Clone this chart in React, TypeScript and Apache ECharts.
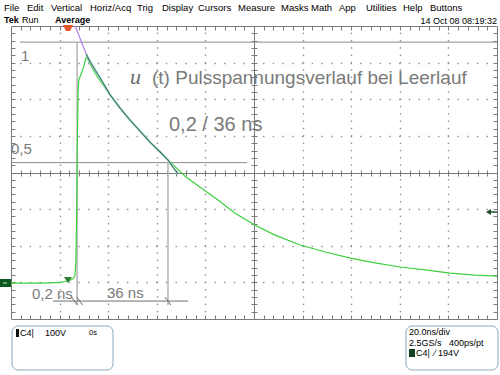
import React, { useEffect, useRef } from "react";
import * as echarts from "echarts";

// ---- scope settings ----
const TIME_PER_DIV_NS = 20;
const VOLT_PER_DIV = 100;
const DIVS_X = 10;
const DIVS_Y = 8;
const SUBDIVS = 5;
const TRIGGER_POS_NS = 23.5; // trigger position, measured from the left screen edge
const GROUND_OFFSET_V = -302; // channel ground position on screen
const LEVEL_ONE_V = 658; // "1" reference level above ground
const LEVEL_HALF_V = 329; // "0,5" reference level above ground

// ---- measured trace (time after trigger in ns, volts above ground) ----
const traceTimeNs = [
  -23.5, -10, -3, -1, 0.8, 2.0, 2.8, 3.2, 3.5, 3.8, 4.1, 4.4, 5.0, 5.8, 6.6, 7.4,
  8.2, 9.1, 11.1, 13.2, 17.3, 21.4, 25.5, 29.6, 33.7, 37.9, 42.0, 48.1, 54.3,
  61.3, 68.7, 77.0, 85.2, 95.5, 105.8, 116.1, 126.3, 136.6, 146.9, 157.2, 167.5,
  176.5,
];
const traceVolts = [
  0, 0, 2, 5, 8, 12, 20, 60, 180, 380, 520, 555, 565, 578, 595, 617, 610, 598,
  574, 552, 514, 478, 445, 415, 385, 358, 331, 292, 262, 229, 191, 158, 131, 104,
  85, 68, 55, 44, 36, 27, 22, 19,
];

// ---- hand-drawn exponential fit ----
const fitPurpleTimeNs = [2.9, 7.4];
const fitPurpleVolts = [702, 626];
const fitTimeNs = [7.4, 9.1, 13.2, 17.3, 21.4, 25.5, 29.6, 33.7, 37.9, 41.1, 44.0, 45.3];
const fitVolts = [626, 604, 560, 514, 478, 445, 415, 385, 358, 336, 309, 298];

// ---- annotation geometry (ns after trigger, volts above ground) ----
const levelOneSpanNs = [-19.8, 176.5];
const levelHalfSpanNs = [-23.5, 73.7];
const riseMarkerNs = 3.7;
const halfMarkerNs = 41.1;
const markerBottomV = -60;
const dimensionLineV = -49;
const dimensionSpanNs = [-6.2, 49.4];
const slashMarksNs = [2.6, 4.8, 41.1];

const menuItems = ["File", "Edit", "Vertical", "Horiz/Acq", "Trig", "Display", "Cursors", "Measure", "Masks", "Math", "App", "Utilities", "Help", "Buttons"];
const menuX = [4, 27, 51, 90, 137, 162, 198, 238, 281, 311, 339, 366, 403, 430];

const toScreen = (t: number, v: number) => [t + TRIGGER_POS_NS, v + GROUND_OFFSET_V];

const FONT = "Liberation Sans, Arial, sans-serif";
const GRAY_TXT = "#7a7a7a";

function grayLine(data: number[][], color = "#9a9a9a", width = 1) {
  return {
    type: "line",
    data,
    symbol: "none",
    silent: true,
    lineStyle: { color, width },
    z: 3,
  };
}

export default function App() {
  const ref = useRef<HTMLDivElement>(null);
  useEffect(() => {
    if (!ref.current) return;
    const chart = echarts.init(ref.current, undefined, { renderer: "svg" });
    const xMax = TIME_PER_DIV_NS * DIVS_X;
    const yHalf = (VOLT_PER_DIV * DIVS_Y) / 2;
    const axisColor = "#7a7a7a";
    const dotColor = "#8e8e8e";

    // graticule drawn through the axes' scales
    const graticule = {
      type: "custom",
      silent: true,
      z: 1,
      data: [[0, 0]],
      renderItem: (_params: any, api: any) => {
        const c = (x: number, y: number) => api.coord([x, y]);
        const snap = (v: number) => Math.round(v) + 0.5;
        const children: any[] = [];
        const [L, T] = c(0, yHalf);
        const [R, B] = c(xMax, -yHalf);
        const [CX, CY] = c(xMax / 2, 0);
        const line = (x1: number, y1: number, x2: number, y2: number, color = axisColor) =>
          children.push({ type: "line", shape: { x1, y1, x2, y2 }, style: { stroke: color, lineWidth: 1 } });
        // dots on the division lines
        for (let i = 1; i < DIVS_X; i++) {
          if (i * 2 === DIVS_X) continue;
          for (let j = 1; j < DIVS_Y * SUBDIVS; j++) {
            const [px, py] = c(i * TIME_PER_DIV_NS, -yHalf + (j * VOLT_PER_DIV) / SUBDIVS);
            children.push({ type: "rect", shape: { x: Math.round(px) - 0.2, y: py - 0.7, width: 1.4, height: 1.4 }, style: { fill: dotColor } });
          }
        }
        for (let j = 1; j < DIVS_Y; j++) {
          if (j * 2 === DIVS_Y) continue;
          for (let i = 1; i < DIVS_X * SUBDIVS; i++) {
            const [px, py] = c((i * TIME_PER_DIV_NS) / SUBDIVS, -yHalf + j * VOLT_PER_DIV);
            children.push({ type: "rect", shape: { x: px - 0.7, y: Math.round(py) - 0.2, width: 1.4, height: 1.4 }, style: { fill: dotColor } });
          }
        }
        // border and centre cross
        children.push({ type: "rect", shape: { x: snap(L), y: snap(T), width: Math.round(R) - Math.round(L), height: Math.round(B) - Math.round(T) }, style: { fill: "none", stroke: axisColor, lineWidth: 1 } });
        line(snap(CX), T, snap(CX), B);
        line(L, snap(CY), R, snap(CY));
        // ticks every sub-division
        for (let i = 1; i < DIVS_X * SUBDIVS; i++) {
          const [px] = c((i * TIME_PER_DIV_NS) / SUBDIVS, 0);
          const x = snap(px);
          line(x, snap(T), x, snap(T) + 4);
          line(x, snap(B) - 4, x, snap(B));
          line(x, snap(CY) - 3, x, snap(CY) + 3);
        }
        for (let j = 1; j < DIVS_Y * SUBDIVS; j++) {
          const [, py] = c(0, -yHalf + (j * VOLT_PER_DIV) / SUBDIVS);
          const y = snap(py);
          line(snap(L), y, snap(L) + 4, y);
          line(snap(R) - 4, y, snap(R), y);
          line(snap(CX) - 3, y, snap(CX) + 3, y);
        }
        return { type: "group", children };
      },
    };

    const trace = traceTimeNs.map((t, i) => toScreen(t, traceVolts[i]));
    const fitP = fitPurpleTimeNs.map((t, i) => toScreen(t, fitPurpleVolts[i]));
    const fit = fitTimeNs.map((t, i) => toScreen(t, fitVolts[i]));

    const series: any[] = [
      graticule,
      grayLine([toScreen(levelOneSpanNs[0], LEVEL_ONE_V), toScreen(levelOneSpanNs[1], LEVEL_ONE_V)], "#8c8c8c"),
      grayLine([toScreen(levelHalfSpanNs[0], LEVEL_HALF_V), toScreen(levelHalfSpanNs[1], LEVEL_HALF_V)], "#8c8c8c"),
      grayLine([toScreen(riseMarkerNs, LEVEL_ONE_V), toScreen(riseMarkerNs, markerBottomV)], "#b4b4b4", 1.5),
      grayLine([toScreen(halfMarkerNs, LEVEL_HALF_V), toScreen(halfMarkerNs, markerBottomV)], "#b4b4b4", 1.5),
      grayLine([toScreen(dimensionSpanNs[0], dimensionLineV), toScreen(dimensionSpanNs[1], dimensionLineV)], "#707070"),
      ...slashMarksNs.map((t) =>
        grayLine([toScreen(t - 1.2, dimensionLineV + 11), toScreen(t + 1.2, dimensionLineV - 11)], "#707070")
      ),
      {
        type: "line",
        data: trace,
        symbol: "none",
        silent: true,
        lineStyle: { color: "#3cd03c", width: 1.2 },
        z: 4,
      },
      {
        type: "line",
        data: fit,
        symbol: "none",
        silent: true,
        lineStyle: { color: "rgba(170,240,240,0.55)", width: 3 },
        z: 4,
      },
      {
        type: "line",
        data: fit,
        symbol: "none",
        silent: true,
        lineStyle: { color: "#4f7266", width: 1.2 },
        z: 5,
      },
      {
        type: "line",
        data: fitP,
        symbol: "none",
        silent: true,
        lineStyle: { color: "#b57ce6", width: 1.2 },
        z: 5,
      },
    ];

    const txt = (text: string, x: number, y: number, size: number, extra: any = {}) => ({
      type: "text",
      x,
      y,
      silent: true,
      style: {
        text,
        fill: extra.fill || "#000",
        fontSize: size,
        fontFamily: extra.fontFamily || FONT,
        fontWeight: extra.fontWeight || "normal",
        fontStyle: extra.fontStyle || "normal",
        textAlign: extra.align || "left",
        textVerticalAlign: "middle",
      },
      z: 100,
    });

    const graphics: any[] = [
      ...menuItems.map((m, i) => txt(m, menuX[i], 7, 9.5)),
      txt("Tek", 4, 20, 9, { fontWeight: "bold" }),
      txt("Run", 22, 20, 9),
      txt("Average", 55, 20, 9, { fontWeight: "bold" }),
      txt("14 Oct 08 08:19:32", 497, 21, 9, { align: "right" }),
      // annotations
      txt("u", 130, 76, 22, { fontFamily: "Liberation Serif, serif", fontStyle: "italic", fill: "#6e6e6e" }),
      txt("(t) Pulsspannungsverlauf bei Leerlauf", 152, 77, 19, { fill: GRAY_TXT }),
      txt("0,2 / 36 ns", 169, 124, 20, { fill: GRAY_TXT }),
      txt("1", 21, 55, 15, { fill: GRAY_TXT }),
      txt("0,5", 11, 148, 15, { fill: GRAY_TXT }),
      txt("0,2 ns", 32, 293, 15, { fill: GRAY_TXT }),
      txt("36 ns", 107, 292, 15, { fill: GRAY_TXT }),
      // markers
      {
        type: "polygon",
        shape: { points: [[63, 25], [73, 25], [70, 31], [66, 31]] },
        style: { fill: "#e4532a" },
        silent: true,
        z: 100,
      },
      {
        type: "polygon",
        shape: { points: [[64, 277], [72, 277], [68, 283]] },
        style: { fill: "#2e7d32" },
        silent: true,
        z: 100,
      },
      {
        type: "rect",
        shape: { x: 0, y: 279, width: 11, height: 8 },
        style: { fill: "#0d5a1e" },
        silent: true,
        z: 100,
      },
      {
        type: "line",
        shape: { x1: 3, y1: 283, x2: 7, y2: 283 },
        style: { stroke: "#cfe8cf", lineWidth: 1 },
        silent: true,
        z: 101,
      },
      {
        type: "line",
        shape: { x1: 489, y1: 212, x2: 497, y2: 212 },
        style: { stroke: "#1f4f2c", lineWidth: 1.5 },
        silent: true,
        z: 100,
      },
      {
        type: "polygon",
        shape: { points: [[486, 212], [491, 209], [491, 215]] },
        style: { fill: "#1f4f2c" },
        silent: true,
        z: 100,
      },
      // readout boxes
      {
        type: "rect",
        shape: { x: 12, y: 326, width: 101, height: 44, r: 6 },
        style: { fill: "#fff", stroke: "#8fa9bb", lineWidth: 1 },
        silent: true,
        z: 90,
      },
      {
        type: "rect",
        shape: { x: 406, y: 326, width: 92, height: 44, r: 6 },
        style: { fill: "#fff", stroke: "#8fa9bb", lineWidth: 1 },
        silent: true,
        z: 90,
      },
      {
        type: "rect",
        shape: { x: 16, y: 329, width: 3, height: 8 },
        style: { fill: "#111" },
        silent: true,
        z: 100,
      },
      txt("C4|", 20, 333, 9),
      txt("100V", 45, 333, 9),
      txt("0s", 89, 332, 7.5),
      txt("20.0ns/div", 409, 332, 9),
      txt("2.5GS/s", 409, 343, 9),
      txt("400ps/pt", 449, 343, 9),
      {
        type: "rect",
        shape: { x: 409, y: 349, width: 6, height: 8 },
        style: { fill: "#123f1f" },
        silent: true,
        z: 100,
      },
      txt("C4|", 416, 353, 9),
      txt("\u2215 194V", 434, 353, 9),
    ];

    chart.setOption({
      animation: false,
      backgroundColor: "#ffffff",
      grid: { left: 11, right: 3, top: 26, bottom: 56 },
      xAxis: {
        type: "value",
        min: 0,
        max: xMax,
        interval: TIME_PER_DIV_NS,
        show: false,
      },
      yAxis: {
        type: "value",
        min: -yHalf,
        max: yHalf,
        interval: VOLT_PER_DIV,
        show: false,
      },
      series,
      graphic: graphics,
    });
    return () => chart.dispose();
  }, []);
  return <div ref={ref} style={{ position: "fixed", left: 0, top: 0, width: 500, height: 375 }} />;
}
